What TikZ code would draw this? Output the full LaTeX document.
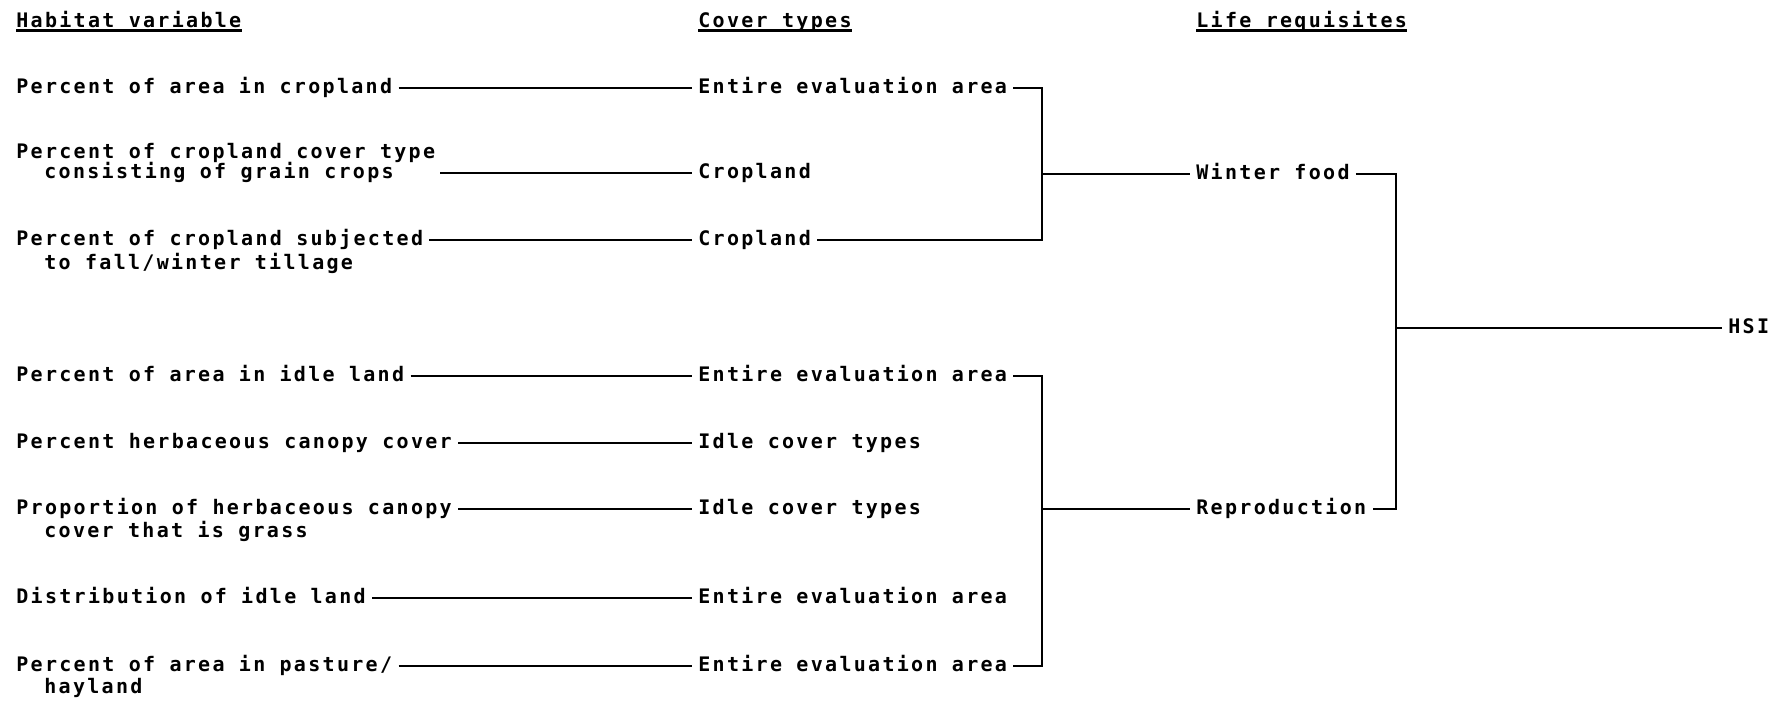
\documentclass[tikz,border=0pt]{standalone}
\usepackage{fontspec}
\newfontfamily\tw{DejaVu Sans Mono}[LetterSpace=11.5]
\tikzset{
  txt/.style={anchor=base west, inner xsep=3pt, inner ysep=0pt, text height=5pt, text depth=0pt,
    font=\tw\bfseries\fontsize{10}{11.5}\selectfont},
  conn/.style={line width=1.3pt, line join=miter},
  ul/.style={line width=1.4pt}
}
\begin{document}
\begin{tikzpicture}[x=0.5pt,y=-0.5pt]
\useasboundingbox (0,0) rectangle (1789,702);
\fill[white] (0,0) rectangle (1789,702);
% headers
\node[txt] (hv) at (10,27) {Habitat variable};
\node[txt] (hc) at (692,27) {Cover types};
\node[txt] (hl) at (1190,27) {Life requisites};
\foreach \h in {hv,hc,hl}{
  \draw[ul] ([xshift=3pt,yshift=-1.7pt]\h.base west) -- ([xshift=-3pt,yshift=-1.7pt]\h.base east);
}
% habitat variables
\node[txt] (v1) at (10,93) {Percent of area in cropland};
\node[txt] (v2a) at (10,158) {Percent of cropland cover type};
\node[txt] (v2b) at (38,178) {consisting of grain crops};
\node[txt] (v3a) at (10,245) {Percent of cropland subjected};
\node[txt] (v3b) at (38,269) {to fall/winter tillage};
\node[txt] (v4) at (10,381) {Percent of area in idle land};
\node[txt] (v5) at (10,448) {Percent herbaceous canopy cover};
\node[txt] (v6a) at (10,514) {Proportion of herbaceous canopy};
\node[txt] (v6b) at (38,537) {cover that is grass};
\node[txt] (v7) at (10,603) {Distribution of idle land};
\node[txt] (v8a) at (10,671) {Percent of area in pasture/};
\node[txt] (v8b) at (38,693) {hayland};
% cover types
\node[txt] (c1) at (692,93) {Entire evaluation area};
\node[txt] (c2) at (692,178) {Cropland};
\node[txt] (c3) at (692,245) {Cropland};
\node[txt] (c4) at (692,381) {Entire evaluation area};
\node[txt] (c5) at (692,448) {Idle cover types};
\node[txt] (c6) at (692,514) {Idle cover types};
\node[txt] (c7) at (692,603) {Entire evaluation area};
\node[txt] (c8) at (692,671) {Entire evaluation area};
% life requisites
\node[txt] (wf) at (1190,179) {Winter food};
\node[txt] (rp) at (1190,514) {Reproduction};
\node[txt] (hsi) at (1722,333) {HSI};
% junctions
\coordinate (j1) at (1042,174);
\coordinate (j2) at (1042,509);
\coordinate (j3) at (1396,328);
% connectors
\draw[conn] (v1.east) -- (c1.west);
\draw[conn] ([xshift=20pt]v2b.east) -- (c2.west);
\draw[conn] (v3a.east) -- (c3.west);
\draw[conn] (v4.east) -- (c4.west);
\draw[conn] (v5.east) -- (c5.west);
\draw[conn] (v6a.east) -- (c6.west);
\draw[conn] (v7.east) -- (c7.west);
\draw[conn] (v8a.east) -- (c8.west);
\draw[conn] (c1.east) -| (j1) |- (c3.east);
\draw[conn] (j1) -- (wf.west);
\draw[conn] (c4.east) -| (j2) |- (c8.east);
\draw[conn] (j2) -- (rp.west);
\draw[conn] (wf.east) -| (j3) |- (rp.east);
\draw[conn] (j3) -- (hsi.west);
\end{tikzpicture}
\end{document}
